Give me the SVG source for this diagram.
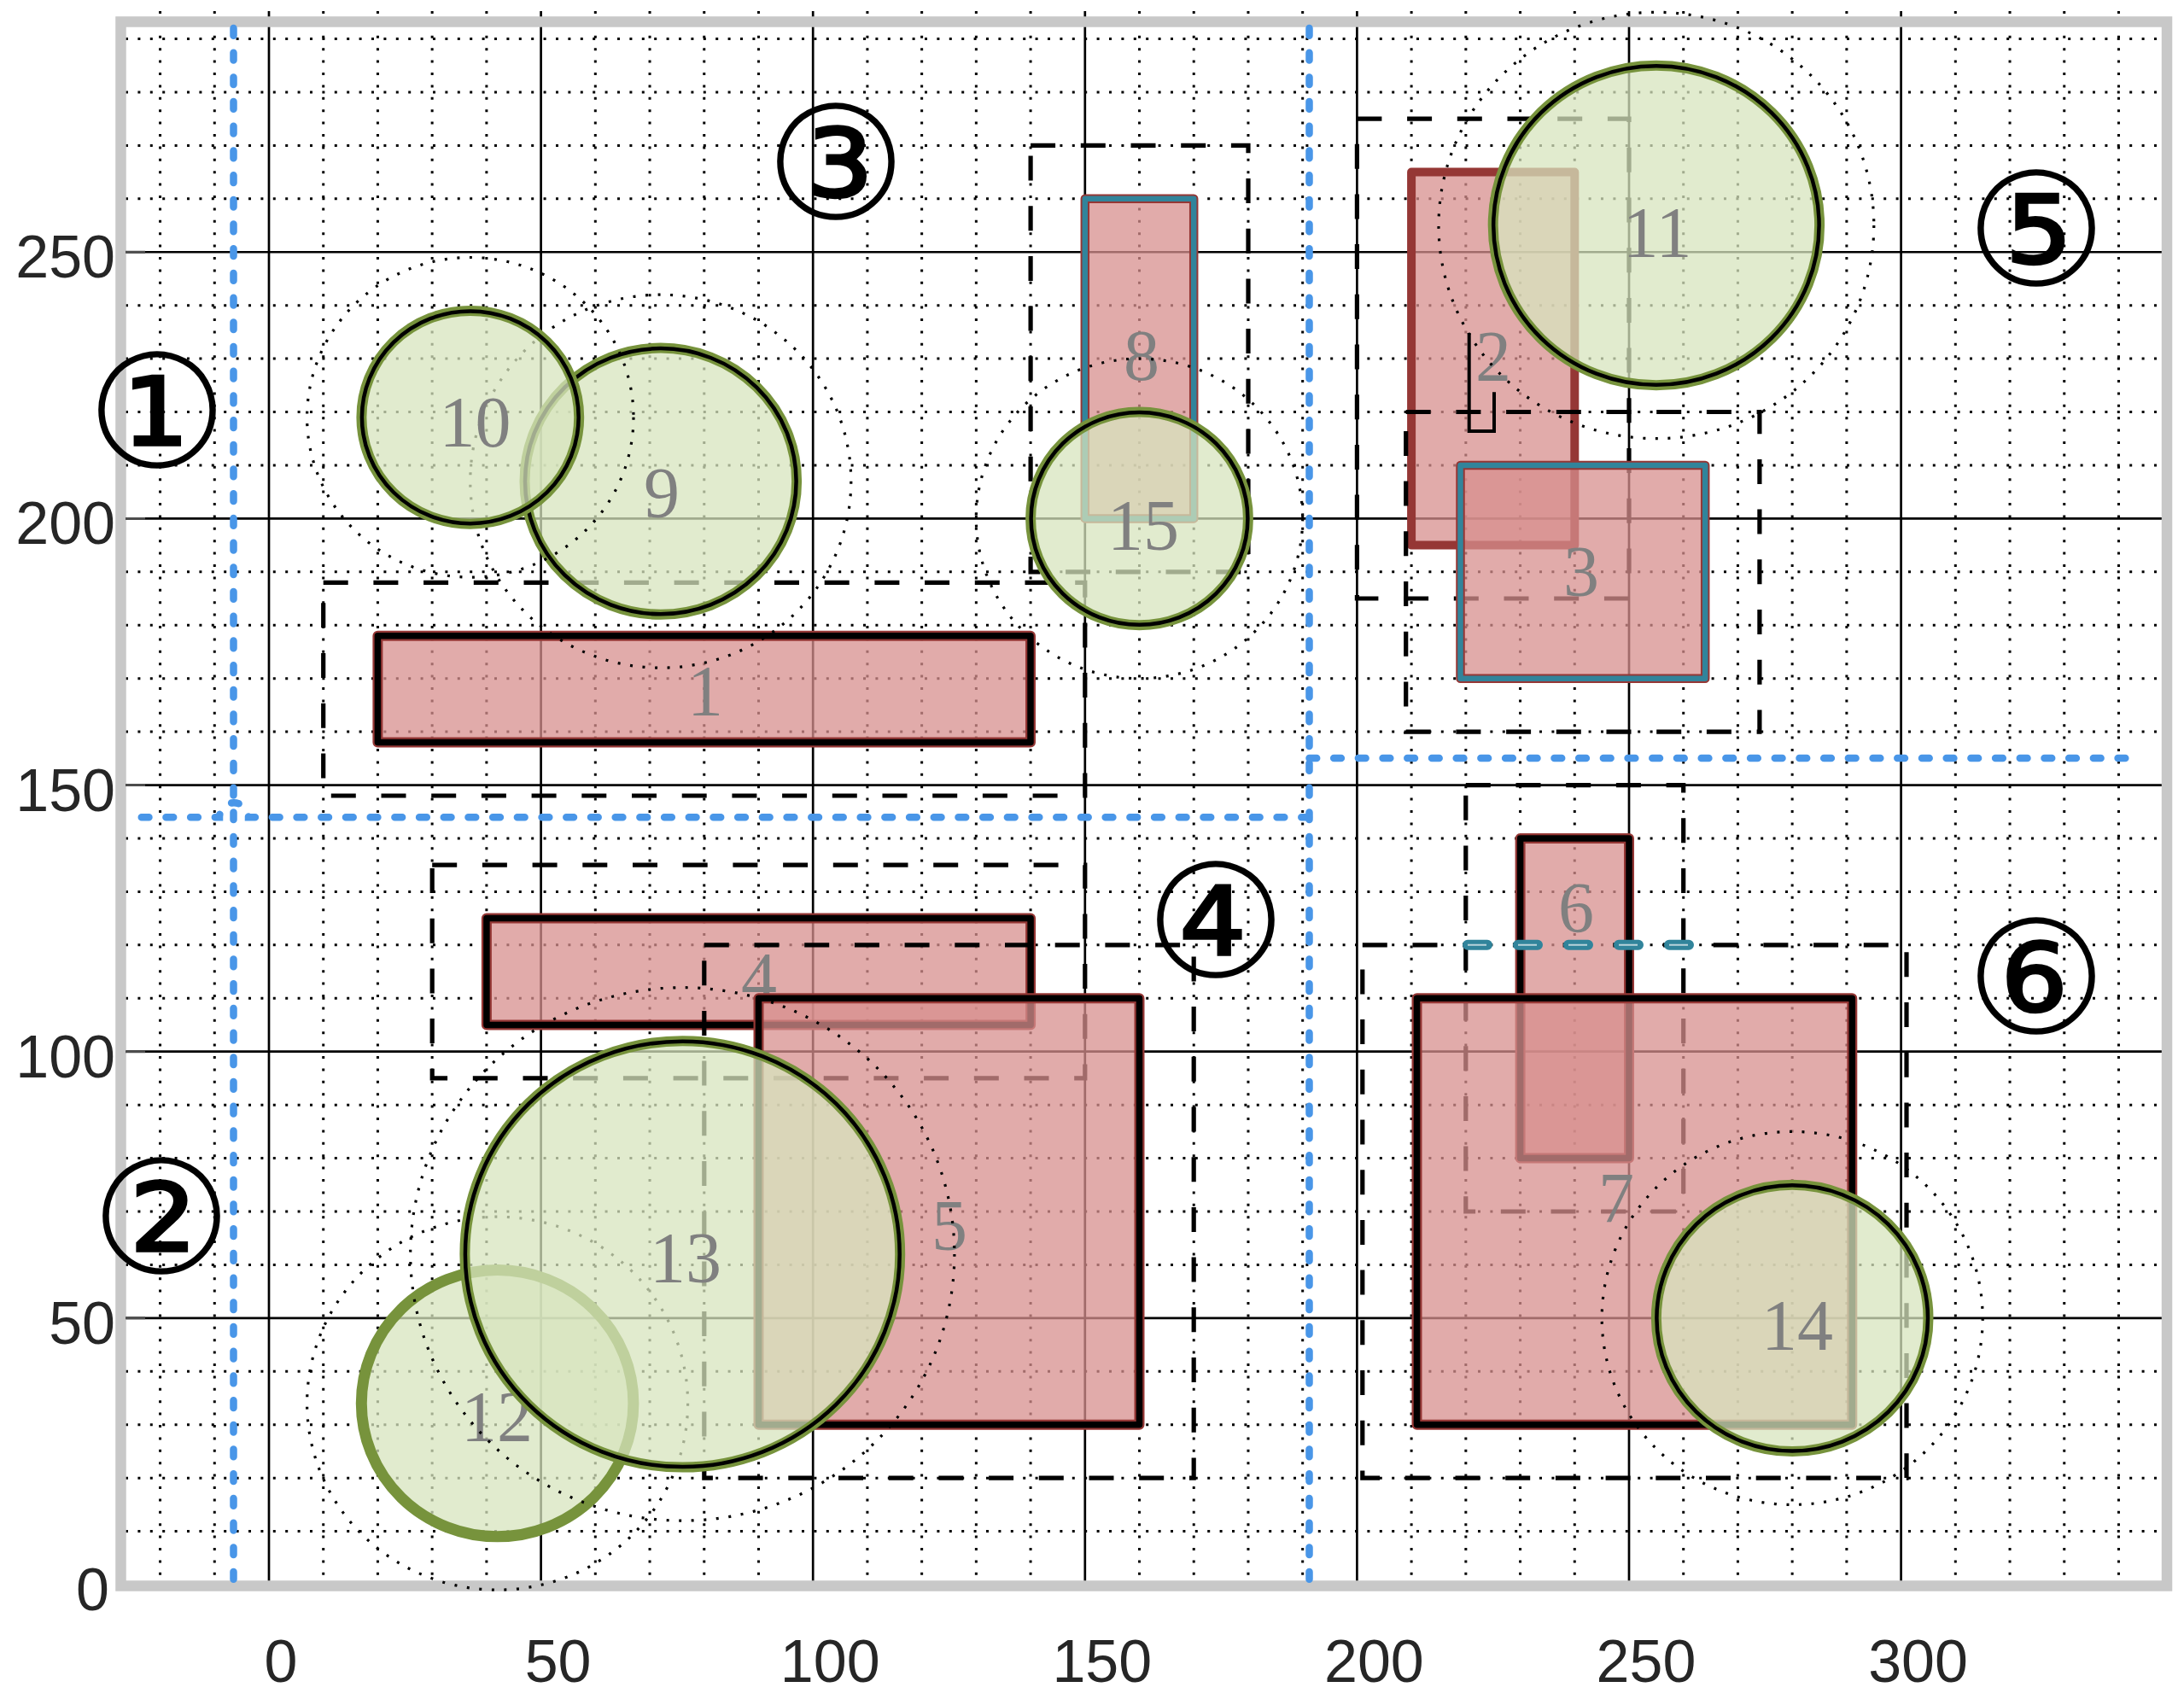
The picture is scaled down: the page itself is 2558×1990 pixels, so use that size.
<svg xmlns="http://www.w3.org/2000/svg" width="2558" height="1990" viewBox="0 0 2558 1990">
<style>
.gmin{fill:none;stroke:#000;stroke-width:3;stroke-dasharray:3 11.4}
.gmaj{fill:none;stroke:#000;stroke-width:2.7}
.frame{fill:none;stroke:#c8c8c8;stroke-width:12.5}
.ytick{stroke:#4d4d4d;stroke-width:3}
.axl{font-family:"Liberation Sans",Arial,sans-serif;font-size:70px;fill:#262626}
.part{fill:none;stroke:#4996e8;stroke-width:8.5;stroke-linecap:round;stroke-dasharray:8.7 20}
.bbox{fill:none;stroke:#000;stroke-width:5.2;stroke-dasharray:29 29.7}
.dotc{fill:none;stroke:#000;stroke-width:3.2;stroke-dasharray:3 11.6}
.rf{fill:#d78f8d;fill-opacity:0.75;stroke:#953735;stroke-width:12;stroke-linejoin:round}
.rk{fill:none;stroke:#000;stroke-width:7.5;stroke-linejoin:round}
.rt{fill:none;stroke:#31849b;stroke-width:6.5;stroke-linejoin:round}
.r2{fill:#d78f8d;fill-opacity:0.75;stroke:#953735;stroke-width:10;stroke-linejoin:round}
.cf{fill:#d7e4bd;fill-opacity:0.75;stroke:#77933c;stroke-width:12}
.ck{fill:none;stroke:#000;stroke-width:4.5}
.c12{fill:#d7e4bd;fill-opacity:0.75;stroke:#77933c;stroke-width:13}
.lbl{font-family:"Liberation Serif","Times New Roman",serif;font-size:84px;fill:#808080;text-anchor:middle}
.circ{font-family:"DejaVu Sans","Noto Sans CJK JP",sans-serif;font-size:184px;fill:#000;text-anchor:middle;dominant-baseline:central}
</style>
<rect x="0" y="0" width="2558" height="1990" fill="#fff"/>
<g id="grid">
<path class="gmin" d="M187.56 13V1857M251.28 13V1857M378.72 13V1857M442.44 13V1857M506.16 13V1857M569.88 13V1857M697.32 13V1857M761.04 13V1857M824.76 13V1857M888.48 13V1857M1015.92 13V1857M1079.64 13V1857M1143.36 13V1857M1207.08 13V1857M1334.52 13V1857M1398.24 13V1857M1461.96 13V1857M1525.68 13V1857M1653.12 13V1857M1716.84 13V1857M1780.56 13V1857M1844.28 13V1857M1971.72 13V1857M2035.44 13V1857M2099.16 13V1857M2162.88 13V1857M2290.32 13V1857M2354.04 13V1857M2417.76 13V1857M2481.48 13V1857"/>
<path class="gmin" d="M147 1793.57H2532M147 1731.14H2532M147 1668.71H2532M147 1606.28H2532M147 1481.42H2532M147 1418.99H2532M147 1356.56H2532M147 1294.13H2532M147 1169.27H2532M147 1106.84H2532M147 1044.41H2532M147 981.98H2532M147 857.12H2532M147 794.69H2532M147 732.26H2532M147 669.83H2532M147 544.97H2532M147 482.54H2532M147 420.11H2532M147 357.68H2532M147 232.82H2532M147 170.39H2532M147 107.96H2532M147 45.53H2532"/>
<path class="gmaj" d="M315 13V1857M633.6 13V1857M952.2 13V1857M1270.8 13V1857M1589.4 13V1857M1908 13V1857M2226.6 13V1857"/>
<path class="gmaj" d="M147 1856H2532M147 1543.85H2532M147 1231.7H2532M147 919.55H2532M147 607.4H2532M147 295.25H2532"/>
</g>
<g id="axes">
<rect class="frame" x="141.5" y="25.5" width="2396.5" height="1832"/>
<path class="ytick" d="M147 1543.85H170M147 1231.7H170M147 919.55H170M147 607.4H170M147 295.25H170"/>
<text class="axl" text-anchor="end" x="128" y="1886">0</text>
<text class="axl" text-anchor="end" x="135" y="1574">50</text>
<text class="axl" text-anchor="end" x="135" y="1261.7">100</text>
<text class="axl" text-anchor="end" x="135" y="949.5">150</text>
<text class="axl" text-anchor="end" x="135" y="637.4">200</text>
<text class="axl" text-anchor="end" x="135" y="325.3">250</text>
<text class="axl" text-anchor="middle" x="329" y="1970">0</text>
<text class="axl" text-anchor="middle" x="653.6" y="1970">50</text>
<text class="axl" text-anchor="middle" x="972.2" y="1970">100</text>
<text class="axl" text-anchor="middle" x="1290.8" y="1970">150</text>
<text class="axl" text-anchor="middle" x="1609.4" y="1970">200</text>
<text class="axl" text-anchor="middle" x="1928" y="1970">250</text>
<text class="axl" text-anchor="middle" x="2246.6" y="1970">300</text>
</g>
<g id="connectors">
<path class="part" d="M273.5 33V1852"/>
<path class="part" d="M1533.5 33V1852"/>
<path class="part" d="M1533 957.3H291A17 17 0 0 0 257 957.3H151"/>
<path class="part" d="M1533.5 888H2496"/>
</g>
<g id="node1">
<rect class="bbox" x="378.7" y="682.3" width="892.1" height="249.7"/>
<rect class="rf" x="442.4" y="744.8" width="764.6" height="124.8"/>
<rect class="rk" x="442.4" y="744.8" width="764.6" height="124.8"/>
<text class="lbl" x="826" y="838.4">1</text>
</g>
<g id="node2">
<rect class="bbox" x="1589.4" y="139.2" width="318.6" height="561.8"/>
<rect class="r2" x="1653.1" y="201.6" width="191.2" height="437"/>
<text class="lbl" x="1749" y="446">2</text>
<path d="M1720.7 390V505H1750V459.3" fill="none" stroke="#000" stroke-width="4"/>
</g>
<g id="node3">
<rect class="bbox" x="1646.7" y="482.5" width="414.2" height="374.6"/>
<rect class="rf" x="1710.5" y="545" width="286.7" height="249.7" style="stroke-width:10.5"/>
<rect class="rt" x="1710.5" y="545" width="286.7" height="249.7"/>
<text class="lbl" x="1852" y="698.4">3</text>
</g>
<g id="node4">
<rect class="bbox" x="506.2" y="1013.2" width="764.6" height="249.7"/>
<rect class="rf" x="569.9" y="1075.6" width="637.2" height="124.9"/>
<rect class="rk" x="569.9" y="1075.6" width="637.2" height="124.9"/>
<text class="lbl" x="889" y="1174">4</text>
</g>
<g id="node5">
<rect class="bbox" x="824.8" y="1106.8" width="573.4" height="624.3"/>
<rect class="rf" x="888.5" y="1169.3" width="446" height="499.4"/>
<rect class="rk" x="888.5" y="1169.3" width="446" height="499.4"/>
<text class="lbl" x="1112" y="1464">5</text>
</g>
<g id="node6">
<rect class="bbox" x="1716.8" y="919.6" width="254.9" height="499.4"/>
<rect class="rf" x="1780.6" y="982" width="127.4" height="374.6"/>
<rect class="rk" x="1780.6" y="982" width="127.4" height="374.6"/>
<text class="lbl" x="1846" y="1092.4">6</text>
</g>
<g id="node7">
<rect class="bbox" x="1595.8" y="1106.8" width="637.2" height="624.3"/>
<rect class="rf" x="1659.5" y="1169.3" width="509.8" height="499.4"/>
<rect class="rk" x="1659.5" y="1169.3" width="509.8" height="499.4"/>
<text class="lbl" x="1893" y="1432.4">7</text>
<path d="M1719 1106.8H1980" fill="none" stroke="#31849b" stroke-width="12" stroke-linecap="round" stroke-dasharray="23 36"/>
<path d="M1719 1106.8H1980" fill="none" stroke="#b9d3da" stroke-width="2" stroke-dasharray="22 37"/>
</g>
<g id="node8">
<rect class="bbox" x="1207.1" y="170.4" width="254.9" height="499.4"/>
<rect class="rf" x="1270.8" y="232.8" width="127.4" height="374.6" style="stroke-width:10.5"/>
<rect class="rt" x="1270.8" y="232.8" width="127.4" height="374.6"/>
<text class="lbl" x="1337" y="445.4">8</text>
</g>
<g id="node9">
<ellipse class="dotc" cx="773.8" cy="563.7" rx="223" ry="218.5"/>
<ellipse class="cf" cx="773.8" cy="563.7" rx="159.3" ry="156.1"/>
<ellipse class="ck" cx="773.8" cy="563.7" rx="158.8" ry="155.6"/>
<text class="lbl" x="775" y="606.4">9</text>
</g>
<g id="node10">
<ellipse class="dotc" cx="550.8" cy="488.8" rx="191.2" ry="187.3"/>
<ellipse class="cf" cx="550.8" cy="488.8" rx="127.4" ry="124.9"/>
<ellipse class="ck" cx="550.8" cy="488.8" rx="126.9" ry="124.4"/>
<text class="lbl" x="556.5" y="523.4">10</text>
</g>
<g id="node11">
<ellipse class="dotc" cx="1939.9" cy="264" rx="254.9" ry="249.7"/>
<ellipse class="cf" cx="1939.9" cy="264" rx="191.2" ry="187.3"/>
<ellipse class="ck" cx="1939.9" cy="264" rx="190.7" ry="186.8"/>
<text class="lbl" x="1941" y="300.7">11</text>
</g>
<g id="node12">
<ellipse class="dotc" cx="582.6" cy="1643.7" rx="223" ry="218.5"/>
<ellipse class="c12" cx="582.6" cy="1643.7" rx="159.3" ry="156.1"/>
<text class="lbl" x="582" y="1688">12</text>
</g>
<g id="node13">
<ellipse class="dotc" cx="799.3" cy="1468.9" rx="318.6" ry="312.2"/>
<ellipse class="cf" cx="799.3" cy="1468.9" rx="254.9" ry="249.7"/>
<ellipse class="ck" cx="799.3" cy="1468.9" rx="254.4" ry="249.2"/>
<text class="lbl" x="803" y="1502.4">13</text>
</g>
<g id="node14">
<ellipse class="dotc" cx="2099.2" cy="1543.9" rx="223" ry="218.5"/>
<ellipse class="cf" cx="2099.2" cy="1543.9" rx="159.3" ry="156.1"/>
<ellipse class="ck" cx="2099.2" cy="1543.9" rx="158.8" ry="155.6"/>
<text class="lbl" x="2105" y="1581">14</text>
</g>
<g id="node15">
<ellipse class="dotc" cx="1334.5" cy="607.4" rx="191.2" ry="187.3"/>
<ellipse class="cf" cx="1334.5" cy="607.4" rx="127.4" ry="124.9"/>
<ellipse class="ck" cx="1334.5" cy="607.4" rx="126.9" ry="124.4"/>
<text class="lbl" x="1339" y="644">15</text>
</g>
<g id="regions">
<text class="circ" x="184" y="483">①</text>
<text class="circ" x="189" y="1427">②</text>
<text class="circ" x="979" y="192">③</text>
<text class="circ" x="1424" y="1080">④</text>
<text class="circ" x="2385" y="270">⑤</text>
<text class="circ" x="2385" y="1146">⑥</text>
</g>
</svg>
